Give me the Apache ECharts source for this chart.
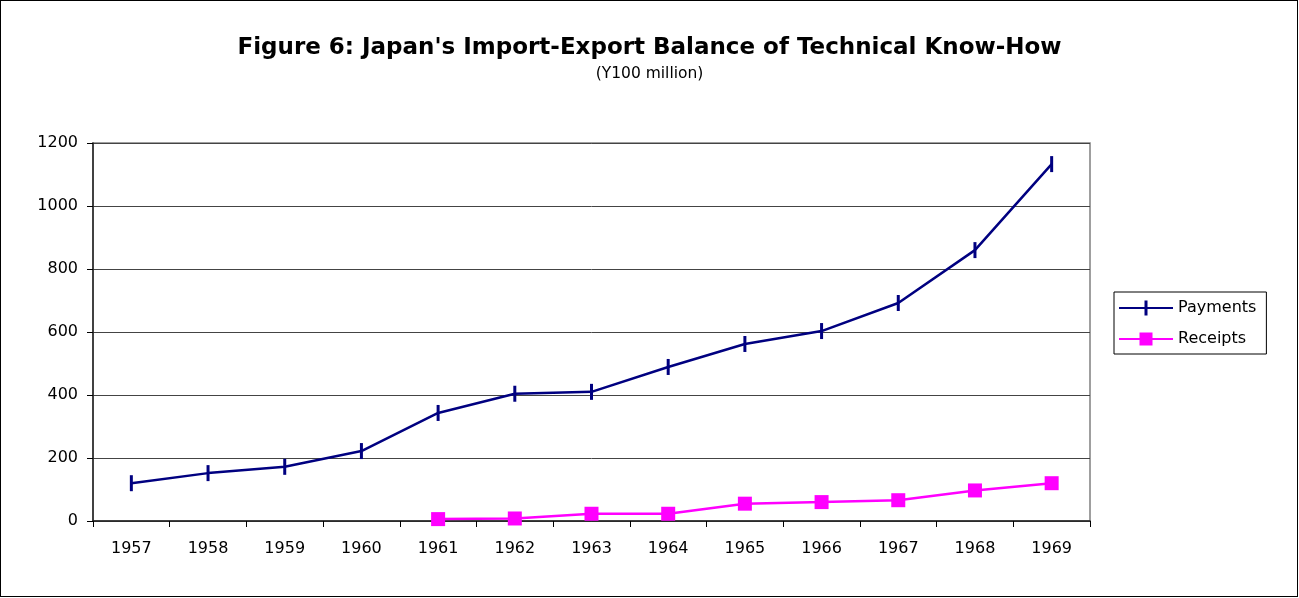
<!DOCTYPE html>
<html>
<head>
<meta charset="utf-8">
<script src="https://cdn.jsdelivr.net/npm/echarts@6/dist/echarts.min.js"></script>
<style>
  html, body { margin: 0; padding: 0; background: #fff; }
  #chart { position: absolute; left: 0; top: 0; width: 1299px; height: 598px; }
  #frame { position: absolute; left: 0; top: 0; width: 1298px; height: 597px;
           border: 1px solid #000; box-sizing: border-box; pointer-events: none; }
</style>
</head>
<body>
<div id="chart"></div>
<div id="frame"></div>
<script>
// years on the category axis
const years = ['1957', '1958', '1959', '1960', '1961', '1962', '1963',
               '1964', '1965', '1966', '1967', '1968', '1969'];
// payments for imported know-how (Y100 million)
const payments = [120, 152, 172, 222, 343, 404, 410, 489, 562, 603, 692, 860, 1133];
// receipts from exported know-how (Y100 million), none plotted before 1961
const receipts = [null, null, null, null, 6, 8, 23, 23, 55, 60, 66, 97, 120];
// value axis
const yMin = 0;
const yMax = 1200;
const yStep = 200;

const font = 'DejaVu Sans';

const chart = echarts.init(document.getElementById('chart'));
const option = {
  animation: false,
  backgroundColor: '#fff',
  title: {
    text: "Figure 6: Japan's Import-Export Balance of Technical Know-How",
    subtext: '(Y100 million)',
    left: 'center',
    top: 29,
    itemGap: 3,
    textStyle: {
      fontFamily: font,
      fontWeight: 'bold',
      fontSize: 23,
      lineHeight: 28,
      color: '#000'
    },
    subtextStyle: {
      fontFamily: font,
      fontSize: 15.5,
      lineHeight: 18,
      color: '#000'
    }
  },
  legend: {
    orient: 'vertical',
    left: 1114,
    top: 292,
    padding: [8, 10, 7, 5],
    itemWidth: 54,
    itemHeight: 15,
    itemGap: 15,
    borderColor: '#000',
    borderWidth: 1,
    textStyle: { fontFamily: font, fontSize: 16, color: '#000' },
    data: [
      {
        name: 'Payments',
        icon: 'path://M0,6.5 L54,6.5 L54,8.5 L0,8.5 Z M25.5,0 L28.5,0 L28.5,15 L25.5,15 Z'
      },
      {
        name: 'Receipts',
        icon: 'path://M0,6.5 L54,6.5 L54,8.5 L0,8.5 Z M20.5,1 L33.5,1 L33.5,14 L20.5,14 Z'
      }
    ]
  },
  grid: {
    left: 93,
    right: 209,
    top: 143,
    bottom: 77,
    show: true,
    borderColor: '#808080',
    borderWidth: 1.5
  },
  xAxis: {
    type: 'category',
    data: years,
    boundaryGap: true,
    axisLine: { lineStyle: { color: '#222', width: 1.5 } },
    axisTick: { show: true, length: 6, lineStyle: { color: '#000' } },
    axisLabel: { margin: 20, fontFamily: font, fontSize: 16, color: '#000' }
  },
  yAxis: {
    type: 'value',
    min: yMin,
    max: yMax,
    interval: yStep,
    axisLine: { show: true, lineStyle: { color: '#222', width: 1.5 } },
    axisTick: { show: true, length: 6, lineStyle: { color: '#000' } },
    axisLabel: {
      margin: 15,
      fontFamily: font,
      fontSize: 16,
      color: '#000',
      formatter: (v) => String(v)
    },
    splitLine: { lineStyle: { color: '#444', width: 1 } }
  },
  series: [
    {
      name: 'Payments',
      type: 'line',
      data: payments,
      color: '#000080',
      lineStyle: { width: 2.5 },
      symbol: 'rect',
      symbolSize: [3, 16],
      itemStyle: { color: '#000080' }
    },
    {
      name: 'Receipts',
      type: 'line',
      data: receipts,
      color: '#ff00ff',
      lineStyle: { width: 2.5 },
      symbol: 'rect',
      symbolSize: 14,
      itemStyle: { color: '#ff00ff' }
    }
  ]
};
chart.setOption(option);
</script>
</body>
</html>
